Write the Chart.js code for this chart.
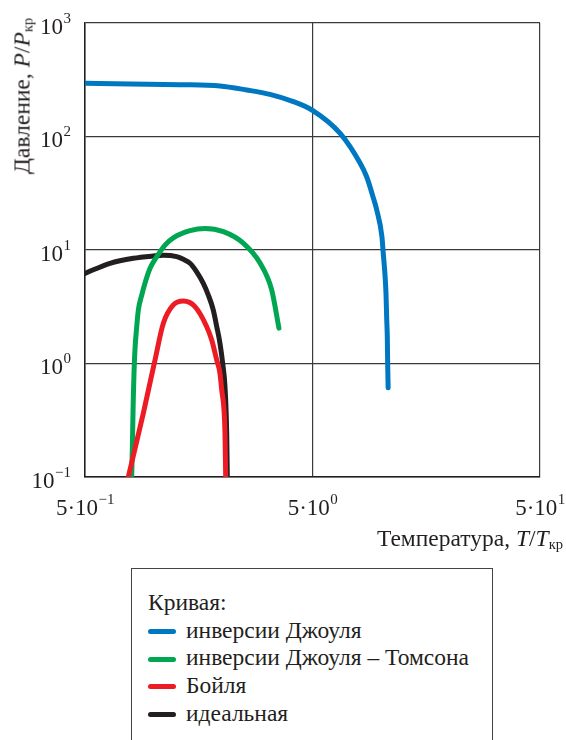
<!DOCTYPE html>
<html>
<head>
<meta charset="utf-8">
<script src="https://cdn.jsdelivr.net/npm/chart.js@4.4.1/dist/chart.umd.min.js"></script>
<style>
    body { margin: 0; background: #fff; font-family: "Liberation Serif", "Times New Roman", serif; color: #231f20; }
    #wrap { position: relative; width: 566px; height: 740px; overflow: hidden; }
    #chart { position: absolute; left: 0; top: 0; }
    sub { font-size: 62%; vertical-align: baseline; position: relative; top: 0.22em; }
    .ytitle { position: absolute; left: 22px; top: 96px; transform: translate(-50%, -50%) rotate(-90deg); white-space: nowrap; font-size: 23.5px; }
    .xtitle { position: absolute; right: 3px; top: 525px; white-space: nowrap; font-size: 23.5px; }
    .legend { position: absolute; left: 131px; top: 568px; width: 362px; height: 220px; box-sizing: border-box;
              border: 1.3px solid #444; padding: 20px 0 0 16px; font-size: 23.5px; line-height: 27.7px; }
    .swatch { display: inline-block; width: 28px; height: 5px; border-radius: 3px; margin-right: 10px; vertical-align: middle; position: relative; top: -1px; }
</style>
</head>
<body>
<div id="wrap">
    <canvas id="chart" width="566" height="560"></canvas>
    <div class="ytitle">Давление, <i>P</i>/<i>P</i><sub>кр</sub></div>
    <div class="xtitle">Температура, <i>T</i>/<i>T</i><sub>кр</sub></div>
    <div class="legend" id="legend"></div>
</div>
<script>
// reduced temperature / reduced pressure
const jouleT = [0.5, 0.789, 1.308, 1.96, 2.57, 3.25, 4.12, 5.0, 6.6, 8.09, 8.65, 9.23, 9.58, 10.1, 10.23, 10.4, 10.52, 10.6, 10.66, 10.7, 10.75];
const jouleP = [294, 290, 286, 279, 257, 235, 203, 170, 107, 58.4, 44.2, 29.3, 22.5, 13.0, 9.35, 6.27, 4.15, 2.42, 1.72, 1.0, 0.61];

const jtT = [0.802, 0.807, 0.815, 0.821, 0.829, 0.844, 0.858, 0.888, 0.918, 0.966, 1.034, 1.124, 1.222, 1.447, 1.684, 2.03, 2.48, 2.94, 3.31, 3.56];
const jtP = [0.1, 0.173, 0.477, 0.82, 1.315, 2.11, 2.96, 4.01, 5.12, 6.9, 8.73, 11.06, 12.8, 14.8, 15.5, 14.5, 11.5, 7.68, 4.44, 2.05];

const boyleT = [0.775, 0.902, 1.015, 1.105, 1.222, 1.352, 1.522, 1.714, 1.803, 1.897, 1.96, 1.995, 2.042, 2.062, 2.077];
const boyleP = [0.1, 0.364, 1.07, 2.26, 3.28, 3.55, 3.17, 2.11, 1.61, 1.07, 0.82, 0.584, 0.389, 0.244, 0.1];

const idealT = [0.5, 0.644, 0.815, 0.998, 1.105, 1.265, 1.352, 1.447, 1.548, 1.656, 1.742, 1.832, 1.897, 1.96, 2.015, 2.062, 2.098, 2.111];
const idealP = [6.23, 7.64, 8.45, 8.85, 8.98, 8.73, 8.28, 7.64, 6.43, 5.09, 4.01, 2.96, 2.11, 1.507, 1.0, 0.625, 0.244, 0.1];

// tick labels as mantissa + superscript exponent
const xTicks = [0.5, 5, 50];
const xTickBase = ['5·10', '5·10', '5·10'];
const xTickExp = ['−1', '0', '1'];
const yTicks = [0.1, 1, 10, 100, 1000];
const yTickBase = ['10', '10', '10', '10', '10'];
const yTickExp = ['−1', '0', '1', '2', '3'];

const legendTitle = 'Кривая:';
const seriesNames = ['инверсии Джоуля', 'инверсии Джоуля – Томсона', 'Бойля', 'идеальная'];
const seriesColors = ['#0077c1', '#00a651', '#ed1c24', '#231f20'];

function points(xs, ys) {
    return xs.map((x, i) => ({ x, y: ys[i] }));
}

const curves = [
    points(jouleT, jouleP),
    points(jtT, jtP),
    points(boyleT, boyleP),
    points(idealT, idealP),
];
const drawOrder = [2, 1, 0, 3];

const serif = '"Liberation Serif", "Times New Roman", serif';
const baseFont = `23px ${serif}`;
const expFont = `15px ${serif}`;

// draws "10" with a raised exponent at each tick, placed by the scales
const powerTicks = {
    id: 'powerTicks',
    afterDraw(chart) {
        const { ctx } = chart;
        const xs = chart.scales.x;
        const ys = chart.scales.y;
        ctx.save();
        ctx.fillStyle = '#231f20';
        ctx.textBaseline = 'alphabetic';
        ctx.textAlign = 'left';

        yTicks.forEach((value, i) => {
            const py = ys.getPixelForValue(value) + 10.5;
            ctx.font = expFont;
            const ew = ctx.measureText(yTickExp[i]).width;
            ctx.font = baseFont;
            const bw = ctx.measureText(yTickBase[i]).width;
            const right = ys.right - 14;
            ctx.fillText(yTickBase[i], right - ew - bw - 0.5, py);
            ctx.font = expFont;
            ctx.fillText(yTickExp[i], right - ew, py - 11);
        });

        xTicks.forEach((value, i) => {
            const px = xs.getPixelForValue(value);
            const baseline = xs.top + 38;
            ctx.font = expFont;
            const ew = ctx.measureText(xTickExp[i]).width;
            ctx.font = baseFont;
            const bw = ctx.measureText(xTickBase[i]).width;
            const left = px - (bw + ew) / 2;
            ctx.fillText(xTickBase[i], left, baseline);
            ctx.font = expFont;
            ctx.fillText(xTickExp[i], left + bw + 0.5, baseline - 11);
        });
        ctx.restore();
    },
};

new Chart(document.getElementById('chart'), {
    type: 'line',
    data: {
        datasets: curves.map((data, i) => ({
            label: seriesNames[i],
            data,
            borderColor: seriesColors[i],
            borderWidth: 5,
            borderCapStyle: 'round',
            borderJoinStyle: 'round',
            pointRadius: 0,
            cubicInterpolationMode: 'monotone',
            fill: false,
            order: drawOrder[i],
        })),
    },
    options: {
        responsive: false,
        animation: false,
        devicePixelRatio: 1,
        layout: {
            padding: { left: 0, top: 23, right: 26, bottom: 0 },
        },
        plugins: {
            legend: { display: false },
            tooltip: { enabled: false },
        },
        scales: {
            x: {
                type: 'logarithmic',
                min: 0.5,
                max: 50,
                afterBuildTicks(scale) {
                    scale.ticks = xTicks.map((value) => ({ value }));
                },
                afterFit(scale) {
                    scale.height = 83;
                    scale.paddingLeft = 0;
                    scale.paddingRight = 0;
                },
                ticks: { display: false },
                grid: {
                    color: '#3a3a3a',
                    lineWidth: 1.2,
                    drawTicks: false,
                },
                border: { display: true, color: '#231f20', width: 1.5 },
            },
            y: {
                type: 'logarithmic',
                min: 0.1,
                max: 1000,
                afterBuildTicks(scale) {
                    scale.ticks = yTicks.map((value) => ({ value }));
                },
                afterFit(scale) {
                    scale.width = 85;
                    scale.paddingTop = 0;
                    scale.paddingBottom = 0;
                },
                ticks: { display: false },
                grid: {
                    color: '#3a3a3a',
                    lineWidth: 1.2,
                    drawTicks: false,
                },
                border: { display: true, color: '#231f20', width: 1.5 },
            },
        },
    },
    plugins: [powerTicks],
});

const legend = document.getElementById('legend');
legend.innerHTML = `<div>${legendTitle}</div>` + seriesNames.map((name, i) =>
    `<div><span class="swatch" style="background:${seriesColors[i]}"></span>${name}</div>`).join('');
</script>
</body>
</html>
